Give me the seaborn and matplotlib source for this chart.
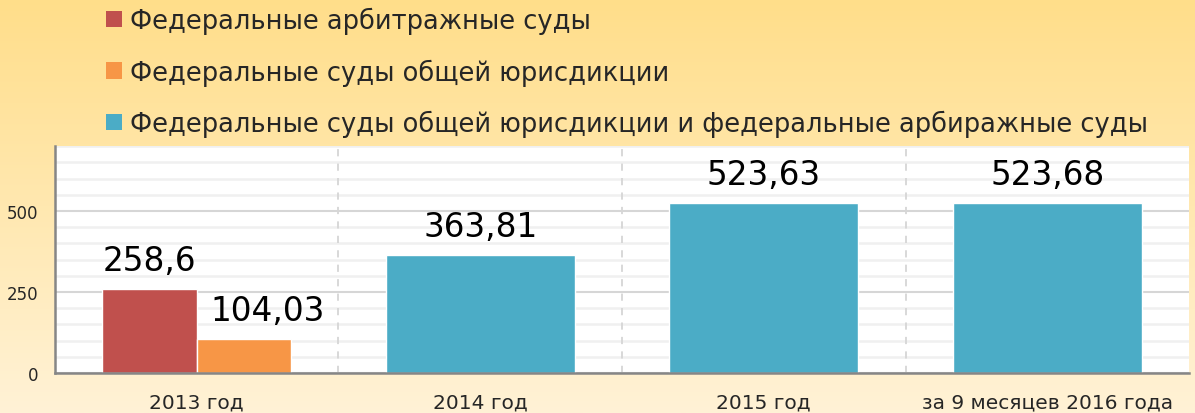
import numpy as np
import pandas as pd
import matplotlib.pyplot as plt
from matplotlib.patches import Patch
from matplotlib.ticker import MultipleLocator
import seaborn as sns

sns.set_theme(style="white")
plt.rcParams["font.family"] = ["DejaVu Sans"]

categories = ["2013 год", "2014 год", "2015 год", "за 9 месяцев 2016 года"]
series_names = [
    "Федеральные арбитражные суды",
    "Федеральные суды общей юрисдикции",
    "Федеральные суды общей юрисдикции и федеральные арбиражные суды",
]
colors = ["#C0504D", "#F79646", "#4BACC6"]

split_year = ["2013 год", "2013 год"]
split_series = series_names[:2]
split_values = [258.6, 104.03]

joint_years = ["2014 год", "2015 год", "за 9 месяцев 2016 года"]
joint_values = [363.81, 523.63, 523.68]

split_df = pd.DataFrame({"year": split_year, "series": split_series, "value": split_values})
joint_df = pd.DataFrame({"year": joint_years, "value": joint_values})


def fmt(v):
    return f"{v:g}".replace(".", ",")


fig = plt.figure(figsize=(11.95, 4.14), dpi=100)

# background gradient
bg = fig.add_axes([0, 0, 1, 1], zorder=-1)
grad = np.linspace(0, 1, 256).reshape(-1, 1)
top = np.array([255, 222, 138]) / 255
bottom = np.array([255, 242, 214]) / 255
img = top + (bottom - top) * grad[:, :, None]
bg.imshow(img, aspect="auto", extent=[0, 1, 0, 1])
bg.axis("off")

ax = fig.add_axes([0.046, 0.0966, 0.949, 0.548])
ax.set_facecolor("white")

sns.barplot(data=split_df, x="year", y="value", hue="series", order=categories,
            hue_order=split_series, palette=colors[:2], width=0.667,
            saturation=1, legend=False, ax=ax, zorder=3)
sns.barplot(data=joint_df, x="year", y="value", order=categories,
            color=colors[2], width=0.667, saturation=1, ax=ax, zorder=3)

for i, container in enumerate(ax.containers):
    texts = ax.bar_label(container, labels=[fmt(b.get_height()) for b in container],
                         fontsize=23.5, padding=9, color="black")
    # the orange label sits a little to the right, as in the original
    if i == 1:
        for t in texts:
            t.xyann = (17, t.xyann[1])

ax.set_xlim(-0.5, 3.5)
ax.set_ylim(0, 700)
ax.set_yticks([0, 250, 500])
ax.yaxis.set_minor_locator(MultipleLocator(50))
ax.set_xticks(range(4))
ax.set_xticklabels(categories, fontsize=14.5)
ax.set_xticks([-0.5, 0.5, 1.5, 2.5, 3.5], minor=True)
ax.tick_params(axis="x", which="major", length=0, pad=14)
ax.tick_params(axis="x", which="minor", length=8, width=1.2, color="#868686", direction="out")
ax.tick_params(axis="y", which="major", length=6, width=1.2, color="#868686", direction="out",
               labelsize=12, pad=6)
ax.tick_params(axis="y", which="minor", length=4, width=1, color="#C8C8C8", direction="in")

ax.grid(axis="y", which="minor", color="#F0F0F0", linewidth=1.8, zorder=0)
ax.grid(axis="y", which="major", color="#D6D6D6", linewidth=1.5, zorder=0)
for xb in [0.5, 1.5, 2.5]:
    ax.axvline(xb, color="#D6D6D6", linestyle=(0, (4, 4)), linewidth=1.3, zorder=1)

for side in ["top", "right"]:
    ax.spines[side].set_visible(False)
for side in ["left", "bottom"]:
    ax.spines[side].set_color("#868686")
    ax.spines[side].set_linewidth(1.8)
ax.spines["bottom"].set_zorder(4)

ax.set_xlabel("")
ax.set_ylabel("")

handles = [Patch(facecolor=c, edgecolor="none") for c in colors]
fig.legend(handles, series_names, loc="upper left", bbox_to_anchor=(0.074, 1.025),
           frameon=False, fontsize=18.5, handlelength=0.62, handleheight=0.62,
           handletextpad=0.3, labelspacing=0.95, borderaxespad=0.3)

fig.savefig("out.png", dpi=100)
